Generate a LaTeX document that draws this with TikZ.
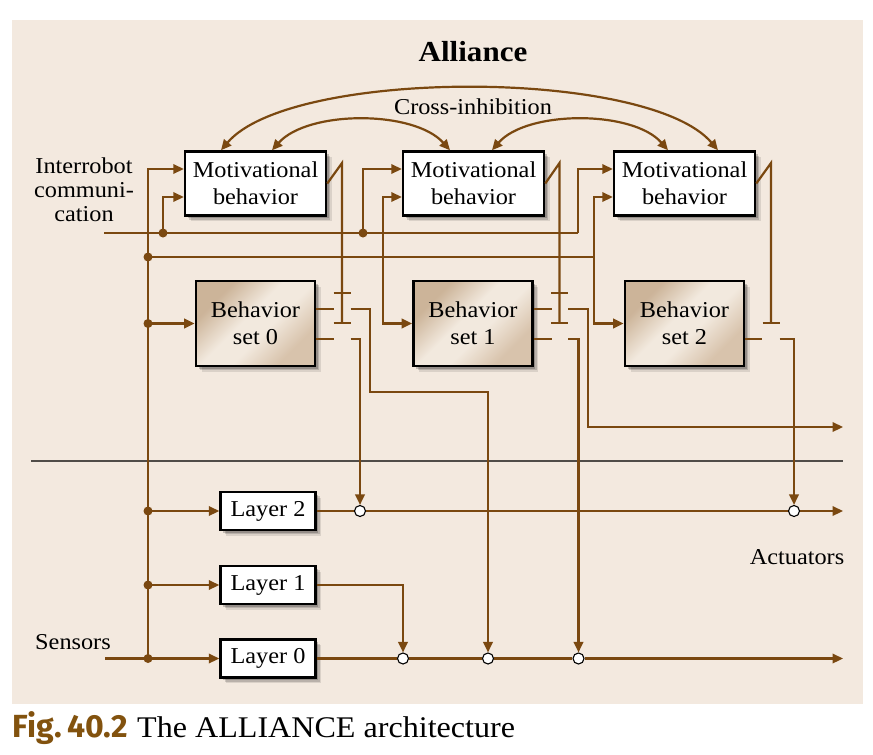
\documentclass[tikz,border=0pt]{standalone}
\usepackage{fontspec}
\setmainfont{Liberation Serif}[FakeStretch=1.07]
\newfontfamily\figfont{Fira Sans}
\usetikzlibrary{arrows.meta,shadows}
\definecolor{brn}{RGB}{122,72,16}
\definecolor{capbrn}{RGB}{130,82,14}
\definecolor{panel}{RGB}{243,233,223}
\definecolor{bsdark}{RGB}{204,180,153}
\definecolor{bsmid}{RGB}{216,195,172}
\definecolor{bslight}{RGB}{242,233,222}
\definecolor{sepgray}{RGB}{80,76,72}
\pgfdeclarehorizontalshading{bsshade}{100bp}{color(0bp)=(bsdark); color(28bp)=(bsdark); color(45bp)=(bslight); color(56bp)=(bslight); color(72bp)=(bsmid); color(100bp)=(bsmid)}
\begin{document}
\begin{tikzpicture}[x=1pt,y=-1pt,
  wire/.style={draw=brn, line width=2.2pt},
  arr/.style={wire, -{Triangle[length=10.5pt,width=9.5pt]}},
  darr/.style={wire, {Triangle[length=10.5pt,width=9.5pt]}-{Triangle[length=10.5pt,width=9.5pt]}},
  shad/.style={general shadow={fill=black, opacity=0.10, shadow xshift=5.5pt, shadow yshift=-5.5pt},
               general shadow={fill=black, opacity=0.15, shadow xshift=4pt, shadow yshift=-4pt},
               general shadow={fill=black, opacity=0.20, shadow xshift=2.5pt, shadow yshift=-2.5pt}},
  txt/.style={inner sep=0, font=\fontsize{22.7}{27}\selectfont},
  mbox/.style={txt, shad, draw=black, line width=2.5pt, fill=white, minimum width=141pt, minimum height=64pt, align=center},
  bbox/.style={txt, shad, draw=black, line width=2.7pt, shading=bsshade, shading angle=-45, minimum width=119pt, minimum height=85pt, align=center},
  lbox/.style={txt, shad, draw=black, line width=2.5pt, fill=white, minimum width=95pt, minimum height=38pt},
  dotnode/.style={circle, fill=brn, inner sep=0, minimum size=9pt},
  ocirc/.style={circle, draw=black, line width=1.1pt, fill=white, inner sep=0, minimum size=11pt},
  sepline/.style={draw=sepgray, line width=1.8pt}
]
\useasboundingbox (0,0) rectangle (873,755);
\fill[white] (0,0) rectangle (873,755);
\fill[panel] (12,20) rectangle (863,704);

% titles and labels
\node[inner sep=0, font=\bfseries\fontsize{29}{32}\selectfont] (title) at (473,52) {Alliance};
\node[txt] (cross) at (473,107) {Cross-inhibition};
\node[txt, align=center, font=\fontsize{22.7}{24}\selectfont] (irc) at (84,190) {Interrobot\\communi-\\cation};
\node[txt] (sens) at (73,642) {Sensors};
\node[txt] (actl) at (797,557) {Actuators};

% separator
\coordinate (sepL) at (31,461);
\coordinate (sepR) at (843,461);
\draw[sepline] (sepL) -- (sepR);

% boxes
\node[mbox] (mb0) at (255.5,183.5) {Motivational\\behavior};
\node[mbox] (mb1) at (473.5,183.5) {Motivational\\behavior};
\node[mbox] (mb2) at (684.5,183.5) {Motivational\\behavior};
\node[bbox] (bs0) at (255.5,323.5) {Behavior\\set 0};
\node[bbox] (bs1) at (473,323.5) {Behavior\\set 1};
\node[bbox] (bs2) at (684.5,323.5) {Behavior\\set 2};
\node[lbox] (l2) at (268,511) {Layer 2};
\node[lbox] (l1) at (268,585) {Layer 1};
\node[lbox] (l0) at (268,658.5) {Layer 0};

% junction dots
\node[dotnode] (d1) at (148,257) {};
\node[dotnode] (d2) at (148,323.5) {};
\node[dotnode] (d3) at (148,511) {};
\node[dotnode] (d4) at (148,585) {};
\node[dotnode] (d5) at (148,658.5) {};
\node[dotnode] (d6) at (163,233) {};
\node[dotnode] (d7) at (363,233) {};

% open circles
\node[ocirc] (c20) at (360,511) {};
\node[ocirc] (c22) at (794,511) {};
\node[ocirc] (c01) at (403,658.5) {};
\node[ocirc] (c02) at (488,658.5) {};
\node[ocirc] (c03) at (578.5,658.5) {};

% free ends
\coordinate (sensIn) at (105,658.5);
\coordinate (irIn) at (104,233);
\coordinate (j383) at (383,257);
\coordinate (j594) at (594,257);
\coordinate (j578) at (578,233);
\coordinate (act1) at (843,427);
\coordinate (act2) at (843,511);
\coordinate (act0) at (843,658.5);

% sensor bus
\draw[wire] (sensIn) -- (d5.center);
\draw[arr] (d5.center) |- ([yshift=14.5pt]mb0.west);
\draw[arr] (d5.center) -- (l0.west);
\draw[arr] (d4.center) -- (l1.west);
\draw[arr] (d3.center) -- (l2.west);
\draw[arr] (d2.center) -- (bs0.west);
\draw[wire] (d1.center) -- (j594);
\draw[arr] (j383) |- ([yshift=-13.5pt]mb1.west);
\draw[arr] (j383) |- (bs1.west);
\draw[arr] (j594) |- ([yshift=-13.5pt]mb2.west);
\draw[arr] (j594) |- (bs2.west);

% interrobot communication
\draw[wire] (irIn) -- (j578);
\draw[arr] (j578) |- ([yshift=14.5pt]mb2.west);
\draw[arr] (d6.center) |- ([yshift=-13.5pt]mb0.west);
\draw[arr] (d7.center) |- ([yshift=14.5pt]mb1.west);

% cross-inhibition
\draw[darr] ([xshift=-34.5pt]mb0.north) .. controls (291,68) and (648,68) .. ([xshift=33.5pt]mb2.north);
\draw[darr] ([xshift=16.5pt]mb0.north) .. controls (308,110) and (414,110) .. ([xshift=-23.5pt]mb1.north);
\draw[darr] ([xshift=18.5pt]mb1.north) .. controls (527,110) and (633,110) .. ([xshift=-16.5pt]mb2.north);

% inhibition switches
\coordinate (s0t) at (342,163); \coordinate (s0m) at (342,293); \coordinate (s0b) at (342,323);
\coordinate (s1t) at (559.5,163); \coordinate (s1m) at (559.5,293); \coordinate (s1b) at (559.5,323);
\coordinate (s2t) at (771,163); \coordinate (s2b) at (771,323);
\draw[wire] (mb0.east) -- (s0t) -- (s0b);
\draw[wire] ([xshift=-8.5pt]s0m) -- ([xshift=8.5pt]s0m);
\draw[wire] ([xshift=-8.5pt]s0b) -- ([xshift=8.5pt]s0b);
\draw[wire] (mb1.east) -- (s1t) -- (s1b);
\draw[wire] ([xshift=-8.5pt]s1m) -- ([xshift=8.5pt]s1m);
\draw[wire] ([xshift=-8.5pt]s1b) -- ([xshift=8.5pt]s1b);
\draw[wire] (mb2.east) -- (s2t) -- (s2b);
\draw[wire] ([xshift=-8.5pt]s2b) -- ([xshift=8.5pt]s2b);

% behavior set outputs
\coordinate (o00) at (350.5,309); \coordinate (o01) at (350.5,339);
\coordinate (o10) at (568,309); \coordinate (o11) at (568,339);
\coordinate (o21) at (779.5,339);
\draw[wire] ([yshift=14.5pt]bs0.east) -- ++(17.5,0);
\draw[wire] ([yshift=-15.5pt]bs0.east) -- ++(17.5,0);
\draw[wire] ([yshift=14.5pt]bs1.east) -- ++(18,0);
\draw[wire] ([yshift=-15.5pt]bs1.east) -- ++(18,0);
\draw[wire] ([yshift=-15.5pt]bs2.east) -- ++(17,0);
\draw[arr] (o00) -- (370,309) -- (370,392) -| (c02.north);
\draw[arr] (o01) -| (c20.north);
\draw[arr] (o10) -- (588,309) |- (act1);
\draw[arr] (o11) -| (c03.north);
\draw[arr] (o21) -| (c22.north);

% layer outputs
\draw[wire] (l2.east) -- (c20.west);
\draw[wire] (c20.east) -- (c22.west);
\draw[arr] (c22.east) -- (act2);
\draw[arr] (l1.east) -| (c01.north);
\draw[wire] (l0.east) -- (c01.west);
\draw[wire] (c01.east) -- (c02.west);
\draw[wire] (c02.east) -- (c03.west);
\draw[arr] (c03.east) -- (act0);

% caption
\node[anchor=base west, inner sep=0, font=\figfont\bfseries\fontsize{32}{34}\selectfont, text=capbrn] (fig) at (12.5,737) {Fig.\,40.2};
\node[anchor=base west, inner sep=0, font=\fontsize{30}{32}\selectfont] (capt) at (137,737) {The ALLIANCE architecture};
\end{tikzpicture}
\end{document}
